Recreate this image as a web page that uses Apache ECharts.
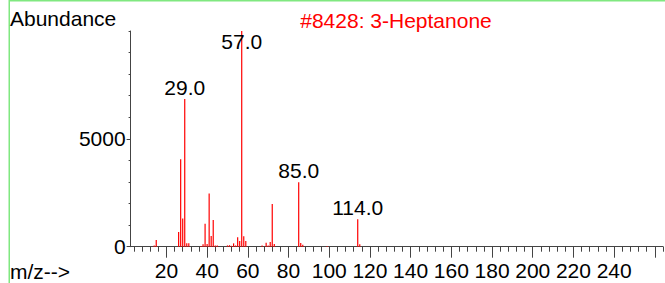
<!DOCTYPE html>
<html><head><meta charset="utf-8">
<script src="https://cdn.jsdelivr.net/npm/echarts@6/dist/echarts.min.js"></script>
<style>html,body{margin:0;padding:0;background:#fff}#c{width:665px;height:283px}</style>
</head><body><div id="c"></div>
<script>
// ---- data ----
const mzValues   = [14, 15, 26, 27, 28, 29, 30, 31, 37, 38, 39, 40, 41, 42, 43, 44, 45, 50, 51, 52, 53, 54, 55, 56, 57, 58, 59, 67, 69, 70, 71, 72, 73, 85, 86, 87, 99, 114, 115];
const abundances = [60, 310, 680, 4050, 1310, 6850, 160, 160, 30, 110, 1065, 125, 2470, 495, 1235, 60, 60, 60, 70, 40, 155, 60, 435, 270, 9999, 480, 265, 50, 185, 60, 215, 1975, 125, 2990, 170, 90, 30, 1270, 110];
const labeledPeaks = [29, 57, 85, 114];
const xTickLabels = [20, 40, 60, 80, 100, 120, 140, 160, 180, 200, 220, 240];
const xMajorTicks = [20, 40, 60, 80, 100, 120, 140, 160, 180, 200, 220, 240, 260];
const xMinorTicks = [4, 8, 12, 16, 20, 24, 28, 32, 36, 40, 44, 48, 52, 56, 60, 64, 68, 72, 76, 80, 84, 88, 92, 96, 100, 104, 108, 112, 116, 120, 124, 128, 132, 136, 140, 144, 148, 152, 156, 160, 164, 168, 172, 176, 180, 184, 188, 192, 196, 200, 204, 208, 212, 216, 220, 224, 228, 232, 236, 240, 244, 248, 252, 256, 260, 264];
const yTickLabels = [0, 5000];
const yMinorTicks = [0, 1000, 2000, 3000, 4000, 5000, 6000, 7000, 8000, 9000, 10000];
const titleText = '#8428: 3-Heptanone';
const yAxisTitle = 'Abundance';
const xAxisTitle = 'm/z-->';

// ---- chart ----
const FONT = 'Arial, "Liberation Sans", sans-serif';
const FS = 21;
const chart = echarts.init(document.getElementById('c'), null, {renderer: 'svg'});

const barData = mzValues.map((m, i) => {
  const item = {value: [m, abundances[i]]};
  if (labeledPeaks.includes(m)) {
    item.label = {
      show: true,
      position: m === 57 ? 'insideTop' : 'top',
      distance: m === 57 ? 0 : 1,
      formatter: () => m.toFixed(1),
      color: '#000', fontSize: FS, fontFamily: FONT
    };
  }
  return item;
});

const axisCol = '#444';
const grid = {left: 130.6, right: 2, top: 31, bottom: 36.3};

chart.setOption({
  animation: false,
  grid: grid,
  xAxis: [{
    type: 'value', min: 2.4, max: 264, position: 'bottom',
    axisLine: {show: true, lineStyle: {color: axisCol, width: 1}},
    axisTick: {show: true, length: 5, customValues: xMinorTicks, lineStyle: {color: axisCol}},
    axisLabel: {show: true, customValues: xTickLabels, margin: 13, color: '#000', fontSize: FS, fontFamily: FONT, formatter: v => String(v)},
    splitLine: {show: false}
  }, {
    type: 'value', min: 2.4, max: 264, position: 'bottom',
    axisLine: {show: false},
    axisTick: {show: true, length: 11, customValues: xMajorTicks, lineStyle: {color: axisCol}},
    axisLabel: {show: false},
    splitLine: {show: false}
  }],
  yAxis: [{
    type: 'value', min: 0, max: 10000, position: 'left',
    axisLine: {show: true, lineStyle: {color: axisCol, width: 1}},
    axisTick: {show: true, length: 2, customValues: yMinorTicks, lineStyle: {color: axisCol}},
    axisLabel: {show: true, customValues: yTickLabels, margin: 5, color: '#000', fontSize: FS, fontFamily: FONT, formatter: v => String(v)},
    splitLine: {show: false}
  }, {
    type: 'value', min: 0, max: 10000, position: 'left',
    axisLine: {show: false},
    axisTick: {show: true, length: 4, customValues: yTickLabels, lineStyle: {color: axisCol}},
    axisLabel: {show: false},
    splitLine: {show: false}
  }],
  series: [{
    type: 'bar', xAxisIndex: 0, yAxisIndex: 0,
    barWidth: 1.2,
    itemStyle: {color: '#ff0000'},
    data: barData
  }],
  graphic: [
    {type: 'rect', shape: {x: 9, y: 0, width: 656, height: 1.5}, style: {fill: '#80e880'}, silent: true},
    {type: 'rect', shape: {x: 8.5, y: 0, width: 1.5, height: 283}, style: {fill: '#80e880'}, silent: true},
    {type: 'text', left: 10, top: 8, style: {text: yAxisTitle, fill: '#000', font: FS + 'px ' + FONT}},
    {type: 'text', x: 396, y: 10, style: {text: titleText, fill: '#ff0000', font: FS + 'px ' + FONT, textAlign: 'center', textVerticalAlign: 'top'}},
    {type: 'text', left: 10, top: 261, style: {text: xAxisTitle, fill: '#000', font: FS + 'px ' + FONT}}
  ]
});
</script>
</body></html>
